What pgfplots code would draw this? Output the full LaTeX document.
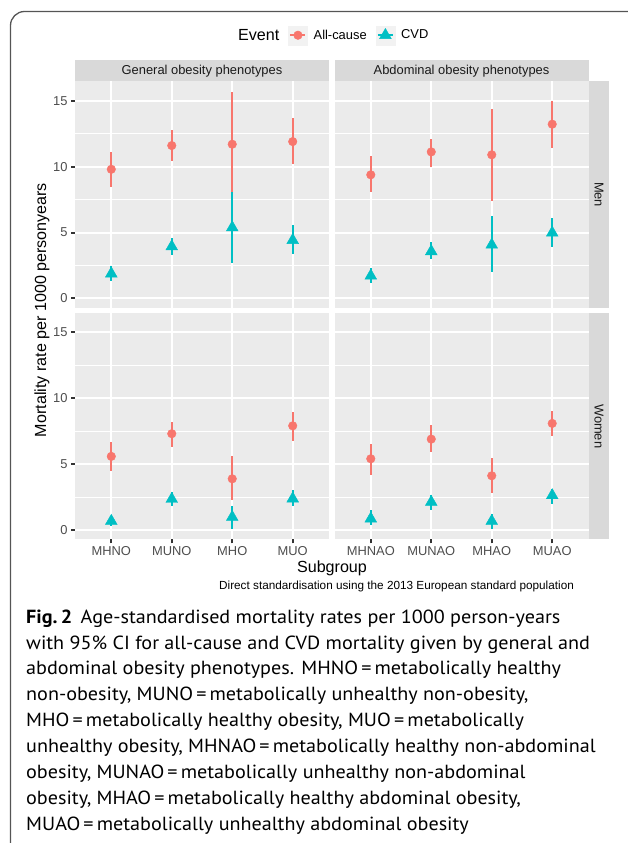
\documentclass[border=0pt]{standalone}
\usepackage{pgfplots}
\pgfplotsset{compat=1.18}
\usepackage{pgfplotstable}
\usepackage{fontspec}
\setmainfont{Liberation Sans}
\newfontfamily\capfont[FakeStretch=1.06]{PT Sans}

\definecolor{panelbg}{HTML}{EBEBEB}
\definecolor{stripbg}{HTML}{D9D9D9}
\definecolor{keybg}{HTML}{F2F2F2}
\definecolor{acol}{HTML}{F8766D}
\definecolor{ccol}{HTML}{00BFC4}
\definecolor{g30}{HTML}{4D4D4D}
\definecolor{g20}{HTML}{333333}
\definecolor{g10}{HTML}{1A1A1A}
\definecolor{bordercol}{HTML}{555555}

\newcommand\ftick{\fontsize{12.9pt}{15pt}\selectfont}
\newcommand\fnote{\fontsize{11.75pt}{14pt}\selectfont}
\newcommand\ftitle{\fontsize{16.1pt}{19pt}\selectfont}
\newcommand\fcap{\capfont\fontsize{19pt}{25.85pt}\selectfont}

% x = subgroup index, a = all-cause (rate, lower, upper), c = CVD (rate, lower, upper)
\pgfplotstableread{
x ay alo ahi cy clo chi
1 9.80 8.47 11.10 1.88 1.29 2.50
2 11.60 10.42 12.77 3.94 3.31 4.57
3 11.70 8.00 15.68 5.38 2.70 8.09
4 11.90 10.21 13.66 4.42 3.41 5.56
}\tGm
\pgfplotstableread{
x ay alo ahi cy clo chi
1 9.38 8.09 10.77 1.72 1.19 2.30
2 11.12 9.99 12.09 3.57 2.98 4.25
3 10.90 7.41 14.39 4.07 1.97 6.29
4 13.22 11.40 14.99 4.98 3.92 6.09
}\tAm
\pgfplotstableread{
x ay alo ahi cy clo chi
1 5.59 4.50 6.67 0.68 0.33 1.10
2 7.31 6.30 8.17 2.35 1.79 2.90
3 3.89 2.30 5.59 0.98 0.07 1.84
4 7.91 6.72 8.97 2.38 1.79 3.06
}\tGw
\pgfplotstableread{
x ay alo ahi cy clo chi
1 5.41 4.20 6.55 0.86 0.40 1.49
2 6.90 5.89 7.97 2.12 1.49 2.68
3 4.12 2.80 5.49 0.68 0.07 1.24
4 8.09 7.10 9.07 2.63 2.00 3.15
}\tAw

\pgfplotsset{
  panel/.style={
    scale only axis, width=254pt, height=226.2pt,
    xmin=0.4, xmax=4.6, ymin=-0.7, ymax=16.46,
    axis background/.style={fill=panelbg},
    axis line style={draw=none},
    xtick={1,2,3,4}, ytick={0,5,10,15}, minor ytick={2.5,7.5,12.5},
    xmajorgrids, ymajorgrids, yminorgrids,
    major grid style={white, line width=2pt},
    minor grid style={white, line width=1pt},
    tick align=outside, major tick length=4pt, minor tick length=0pt,
    major tick style={g20, line width=2pt},
    minor tick style={draw=none},
    xtick pos=bottom, ytick pos=left,
    ticklabel style={font=\ftick, text=g30},
    yticklabels={0,5,10,15},
  },
  ci/.style={only marks, mark=none, forget plot,
    error bars/.cd, y dir=both, y explicit, error mark=none,
    error bar style={line width=2.2pt, solid}},
  ptA/.style={acol, only marks, mark=*, mark size=4.3pt, forget plot},
  ptC/.style={ccol, only marks, mark=triangle*, mark size=6.8pt, forget plot},
}

\newcommand\drawpanel[1]{%
  \addplot[acol, ci] table[x=x, y=ay, y error plus expr=\thisrow{ahi}-\thisrow{ay}, y error minus expr=\thisrow{ay}-\thisrow{alo}] {#1};
  \addplot[ccol, ci] table[x=x, y=cy, y error plus expr=\thisrow{chi}-\thisrow{cy}, y error minus expr=\thisrow{cy}-\thisrow{clo}] {#1};
  \addplot[ptA] table[x=x, y=ay] {#1};
  \addplot[ptC] table[x=x, y=cy] {#1};
}

\begin{document}
\begin{tikzpicture}[x=1pt, y=1pt]
\path[use as bounding box] (0,0) rectangle (627,843);

% outer frame of the figure
\draw[bordercol, line width=1.3pt, rounded corners=14pt] (10.5,-20) -- (10.5,831.5) -- (680,831.5);

% top-left: men, general
\begin{axis}[panel, name=tl, at={(75pt,535.3pt)}, anchor=south west,
  xticklabels={}, xmajorticks=false,
  legend columns=-1,
  legend style={at={(0.8396,1.2045)}, anchor=west, draw=none, fill=none,
    inner sep=0pt, outer sep=0pt, font=\ftick, text=black,
    nodes={inner sep=0pt},
    /tikz/every odd column/.append style={column sep=6pt},
    /tikz/every even column/.append style={column sep=9pt}},
  ]
  \drawpanel{\tGm}
  \addlegendimage{legend image code/.code={
    \fill[keybg] (0pt,-9.5pt) rectangle (19pt,9.5pt);
    \draw[acol, line width=2.1pt] (2pt,0pt) -- (17pt,0pt);
    \fill[acol] (9.5pt,0pt) circle (4.3pt);}}
  \addlegendentry{All-cause}
  \addlegendimage{legend image code/.code={
    \fill[keybg] (0pt,-9.5pt) rectangle (19pt,9.5pt);
    \draw[ccol, line width=2.1pt] (2pt,0pt) -- (17pt,0pt);
    \fill[ccol] (9.5pt,6.8pt) -- (15.39pt,-3.4pt) -- (3.61pt,-3.4pt) -- cycle;}}
  \addlegendentry{CVD}
\end{axis}

% top-right: men, abdominal
\begin{axis}[panel, name=tr, at={(334.5pt,535.3pt)}, anchor=south west,
  xticklabels={}, xmajorticks=false, yticklabels={}, ymajorticks=false]
  \drawpanel{\tAm}
\end{axis}

% bottom-left: women, general
\begin{axis}[panel, name=bl, at={(75pt,303.7pt)}, anchor=south west,
  xticklabels={MHNO,MUNO,MHO,MUO}]
  \drawpanel{\tGw}
\end{axis}

% bottom-right: women, abdominal
\begin{axis}[panel, name=br, at={(334.5pt,303.7pt)}, anchor=south west,
  xticklabels={MHNAO,MUNAO,MHAO,MUAO}, yticklabels={}, ymajorticks=false]
  \drawpanel{\tAw}
\end{axis}

% facet strips
\fill[stripbg] (tl.north west) rectangle ([yshift=21pt]tl.north east);
\node[font=\ftick, text=g10] at ([yshift=10.5pt]tl.north) {General obesity phenotypes};
\fill[stripbg] (tr.north west) rectangle ([yshift=21pt]tr.north east);
\node[font=\ftick, text=g10] at ([yshift=10.5pt]tr.north) {Abdominal obesity phenotypes};
\fill[stripbg] ([xshift=0.5pt]tr.north east) rectangle ([xshift=20.5pt]tr.south east);
\node[font=\ftick, text=g10, rotate=-90] at ([xshift=10.5pt]tr.east) {Men};
\fill[stripbg] ([xshift=0.5pt]br.north east) rectangle ([xshift=20.5pt]br.south east);
\node[font=\ftick, text=g10, rotate=-90] at ([xshift=10.5pt]br.east) {Women};

% legend title
\node[font=\ftitle, anchor=west, inner sep=0pt] at (238,808) {Event};

% axis titles and caption
\node[font=\ftitle, rotate=90] at (42,533) {Mortality rate per 1000 personyears};
\node[font=\ftitle] at (332,275) {Subgroup};
\node[font=\fnote, anchor=west, inner sep=0pt] at (219,257) {Direct standardisation using the 2013 European standard population};

% figure legend text
\begin{scope}[every node/.style={anchor=base west, inner sep=0pt, font=\fcap}]
\node at (26,219.7) {\textbf{Fig.\,2}\hspace{0.45em}Age-standardised mortality rates per 1000 person-years};
\node at (26,193.8) {with 95\% CI for all-cause and CVD mortality given by general and};
\node at (26,168.0) {abdominal obesity phenotypes. MHNO\,=\,metabolically healthy};
\node at (26,142.1) {non-obesity, MUNO\,=\,metabolically unhealthy non-obesity,};
\node at (26,116.3) {MHO\,=\,metabolically healthy obesity, MUO\,=\,metabolically};
\node at (26,90.4) {unhealthy obesity, MHNAO\,=\,metabolically healthy non-abdominal};
\node at (26,64.6) {obesity, MUNAO\,=\,metabolically unhealthy non-abdominal};
\node at (26,38.7) {obesity, MHAO\,=\,metabolically healthy abdominal obesity,};
\node at (26,12.9) {MUAO\,=\,metabolically unhealthy abdominal obesity};
\end{scope}
\end{tikzpicture}
\end{document}
